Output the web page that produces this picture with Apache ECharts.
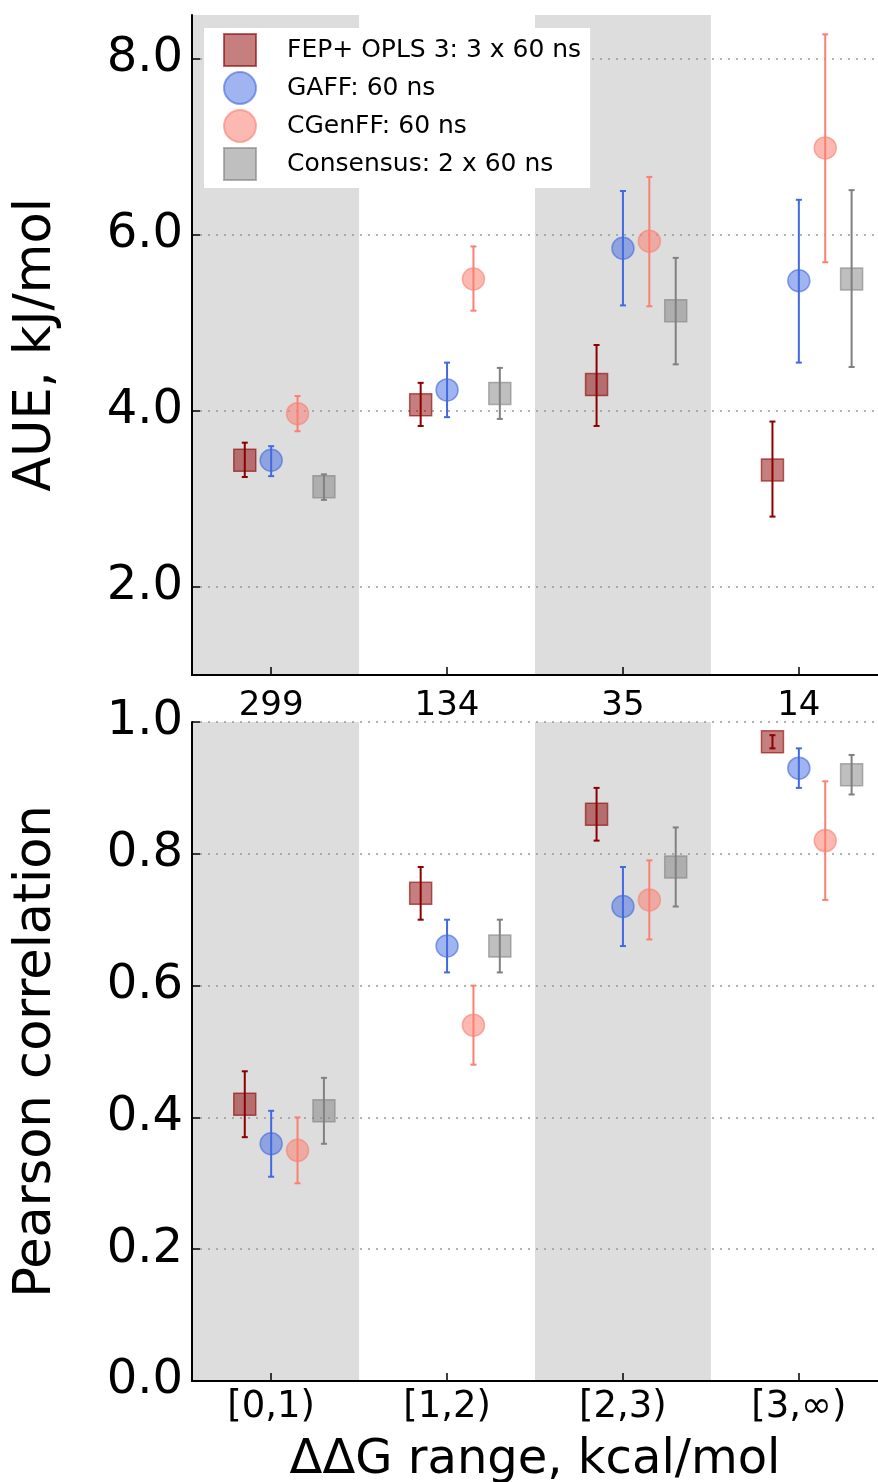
<!DOCTYPE html>
<html><head><meta charset="utf-8">
<script src="https://cdn.jsdelivr.net/npm/echarts@6/dist/echarts.min.js"></script>
<style>html,body{margin:0;padding:0;background:#fff}#c{width:878px;height:1482px}</style>
</head><body><div id="c"></div>
<script>
const categories = ['[0,1)', '[1,2)', '[2,3)', '[3,\u221e)'];
const counts = ['299', '134', '35', '14'];
const methods = ['FEP+ OPLS 3: 3 x 60 ns', 'GAFF: 60 ns', 'CGenFF: 60 ns', 'Consensus: 2 x 60 ns'];
const offsets = [-0.15, 0, 0.15, 0.3];
const bandRanges = [[-0.45, 0.5], [1.5, 2.5]];
const aueTicks = [2, 4, 6, 8];
const catTicks = [0, 1, 2, 3];

// AUE, kJ/mol
const aueFEP = [3.44, 4.07, 4.30, 3.33];
const aueFEPlo = [3.25, 3.83, 3.83, 2.80];
const aueFEPhi = [3.64, 4.32, 4.75, 3.88];
const aueGAFF = [3.44, 4.24, 5.85, 5.48];
const aueGAFFlo = [3.26, 3.93, 5.20, 4.55];
const aueGAFFhi = [3.60, 4.55, 6.50, 6.40];
const aueCGen = [3.97, 5.50, 5.93, 6.99];
const aueCGenlo = [3.77, 5.14, 5.19, 5.69];
const aueCGenhi = [4.17, 5.87, 6.66, 8.28];
const aueCons = [3.14, 4.20, 5.14, 5.50];
const aueConslo = [2.99, 3.91, 4.53, 4.50];
const aueConshi = [3.28, 4.49, 5.74, 6.51];

// Pearson correlation
const rFEP = [0.42, 0.74, 0.86, 0.97];
const rFEPlo = [0.37, 0.70, 0.82, 0.96];
const rFEPhi = [0.47, 0.78, 0.90, 0.98];
const rGAFF = [0.36, 0.66, 0.72, 0.93];
const rGAFFlo = [0.31, 0.62, 0.66, 0.90];
const rGAFFhi = [0.41, 0.70, 0.78, 0.96];
const rCGen = [0.35, 0.54, 0.73, 0.82];
const rCGenlo = [0.30, 0.48, 0.67, 0.73];
const rCGenhi = [0.40, 0.60, 0.79, 0.91];
const rCons = [0.41, 0.66, 0.78, 0.92];
const rConslo = [0.36, 0.62, 0.72, 0.89];
const rConshi = [0.46, 0.70, 0.84, 0.95];

const lineColors = ['#8b0000', '#4169e1', '#fa8072', '#808080'];
const fillColors = ['rgba(139,0,0,0.5)', 'rgba(65,105,225,0.5)', 'rgba(250,128,114,0.55)', 'rgba(128,128,128,0.5)'];
const edgeColors = ['rgba(139,0,0,0.6)', 'rgba(65,105,225,0.6)', 'rgba(250,128,114,0.6)', 'rgba(128,128,128,0.6)'];
const symbols = ['rect', 'circle', 'circle', 'rect'];
const FF = 'DejaVu Sans';

const panels = [
  {vals: [aueFEP, aueGAFF, aueCGen, aueCons], lo: [aueFEPlo, aueGAFFlo, aueCGenlo, aueConslo], hi: [aueFEPhi, aueGAFFhi, aueCGenhi, aueConshi]},
  {vals: [rFEP, rGAFF, rCGen, rCons], lo: [rFEPlo, rGAFFlo, rCGenlo, rConslo], hi: [rFEPhi, rGAFFhi, rCGenhi, rConshi]}
];

const series = [];
[0, 1].forEach(g => {
  series.push({
    type: 'custom', xAxisIndex: g, yAxisIndex: g, z: 0, silent: true,
    data: bandRanges,
    encode: {x: [0, 1]},
    renderItem: (params, api) => {
      const a = api.coord([api.value(0), 0]);
      const b = api.coord([api.value(1), 0]);
      const cs = params.coordSys;
      return {type: 'rect', shape: {x: a[0], y: cs.y, width: b[0] - a[0], height: cs.height},
        style: {fill: '#dddddd'}};
    }
  });
  const P = panels[g];
  for (let m = 0; m < 4; m++) {
    series.push({
      type: 'scatter', name: methods[m], xAxisIndex: g, yAxisIndex: g, z: 3,
      symbol: symbols[m], symbolSize: 22,
      itemStyle: {color: fillColors[m], borderColor: edgeColors[m], borderWidth: 1.5, opacity: 1},
      data: P.vals[m].map((v, i) => [i + offsets[m], v])
    });
    series.push({
      type: 'custom', name: methods[m], xAxisIndex: g, yAxisIndex: g, z: 4, silent: true,
      data: P.vals[m].map((v, i) => [i + offsets[m], P.lo[m][i], P.hi[m][i]]),
      encode: {x: 0, y: [1, 2]},
      renderItem: (params, api) => {
        const p0 = api.coord([api.value(0), api.value(1)]);
        const p1 = api.coord([api.value(0), api.value(2)]);
        const cw = 3;
        const style = {stroke: lineColors[m], lineWidth: 2};
        return {type: 'group', children: [
          {type: 'line', shape: {x1: p0[0], y1: p0[1], x2: p1[0], y2: p1[1]}, style: style},
          {type: 'line', shape: {x1: p0[0] - cw, y1: p0[1], x2: p0[0] + cw, y2: p0[1]}, style: style},
          {type: 'line', shape: {x1: p1[0] - cw, y1: p1[1], x2: p1[0] + cw, y2: p1[1]}, style: style}
        ]};
      }
    });
  }
});

const axisLineStyle = {color: '#000', width: 2};
const tickStyle = {color: '#000', width: 1.5};
const gridLine = {show: true, lineStyle: {color: '#999', type: [2, 6], width: 1.5}};

const option = {
  animation: false,
  backgroundColor: '#fff',
  textStyle: {fontFamily: FF},
  grid: [
    {left: 192, top: 15, width: 686, height: 660, outerBoundsMode: 'none', containLabel: false},
    {left: 192, top: 722, width: 686, height: 659, outerBoundsMode: 'none', containLabel: false}
  ],
  legend: {
    orient: 'vertical', left: 204, top: 28, padding: [5, 9, 7, 19],
    backgroundColor: '#fff', itemWidth: 32, itemHeight: 32, itemGap: 4, z: 10,
    textStyle: {fontSize: 25, fontFamily: FF, color: '#000', padding: [0, 0, 0, 26]},
    data: methods.map((n, i) => ({name: n, icon: symbols[i]}))
  },
  xAxis: [
    {type: 'value', gridIndex: 0, min: -0.45, max: 3.45, position: 'bottom', z: 5,
     axisLine: {onZero: false, lineStyle: axisLineStyle},
     axisTick: {show: true, inside: true, length: 8, customValues: catTicks, lineStyle: tickStyle},
     axisLabel: {customValues: catTicks, formatter: v => counts[Math.round(v)], fontSize: 34, color: '#000', margin: 14, fontFamily: FF},
     splitLine: {show: false}},
    {type: 'value', gridIndex: 1, min: -0.45, max: 3.45, position: 'bottom', z: 5,
     name: '\u0394\u0394G range, kcal/mol', nameLocation: 'middle', nameGap: 56,
     nameTextStyle: {fontSize: 48, color: '#000', fontFamily: FF},
     axisLine: {onZero: false, lineStyle: axisLineStyle},
     axisTick: {show: true, inside: true, length: 8, customValues: catTicks, lineStyle: tickStyle},
     axisLabel: {customValues: catTicks, formatter: v => categories[Math.round(v)], fontSize: 37, color: '#000', margin: 8, fontFamily: FF},
     splitLine: {show: false}}
  ],
  yAxis: [
    {type: 'value', gridIndex: 0, min: 1, max: 8.5, z: 1,
     name: 'AUE, kJ/mol', nameLocation: 'middle', nameGap: 130,
     nameTextStyle: {fontSize: 51, color: '#000', fontFamily: FF},
     axisLine: {show: true, onZero: false, lineStyle: axisLineStyle},
     axisTick: {show: true, inside: true, length: 8, customValues: aueTicks, lineStyle: tickStyle},
     axisLabel: {customValues: aueTicks, formatter: v => v.toFixed(1), fontSize: 48, color: '#000', margin: 9, fontFamily: FF},
     splitLine: gridLine},
    {type: 'value', gridIndex: 1, min: 0, max: 1, interval: 0.2, z: 1,
     name: 'Pearson correlation', nameLocation: 'middle', nameGap: 130,
     nameTextStyle: {fontSize: 51, color: '#000', fontFamily: FF},
     axisLine: {show: true, onZero: false, lineStyle: axisLineStyle},
     axisTick: {show: true, inside: true, length: 8, lineStyle: tickStyle},
     axisLabel: {formatter: v => v.toFixed(1), fontSize: 48, color: '#000', margin: 9, fontFamily: FF},
     splitLine: gridLine}
  ],
  series: series
};

const chart = echarts.init(document.getElementById('c'), null, {renderer: 'canvas'});
chart.setOption(option);
</script>
</body></html>
